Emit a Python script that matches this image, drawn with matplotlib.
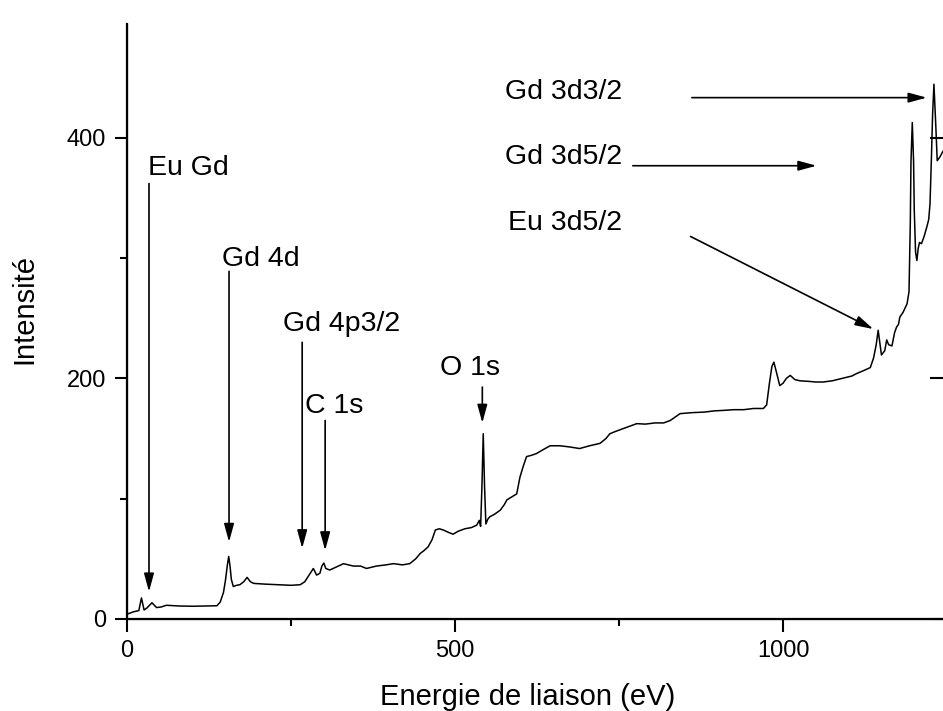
import numpy as np
import matplotlib
matplotlib.use("Agg")
import matplotlib.pyplot as plt
from matplotlib.ticker import MultipleLocator

plt.rcParams['font.family'] = ['Liberation Sans', 'DejaVu Sans']

# spectre XPS (energie en eV, intensite)
energie = [0, 10, 18, 22, 26, 30, 38, 45, 52, 60, 80, 100, 120, 137, 142, 147, 150, 153, 155, 157,
           159, 162, 167, 172, 178, 183, 188, 193, 210, 230, 250, 264, 271, 278, 284, 289, 294, 297,
           300, 303, 309, 318, 330, 345, 356, 365, 380, 395, 406, 420, 431, 440, 447, 453, 459, 465,
           470, 476, 482, 490, 497, 505, 515, 525, 533, 537, 539, 541, 543, 545, 547, 550, 553, 560,
           569, 575, 579, 585, 594, 599, 604, 609, 616, 624, 635, 645, 660, 675, 690, 705, 721, 730,
           736, 745, 760, 777, 790, 805, 818, 828, 836, 843, 860, 880, 895, 909, 925, 940, 955, 970,
           975, 979, 983, 986, 990, 995, 1000, 1005, 1011, 1018, 1026, 1040, 1050, 1061, 1075, 1090,
           1105, 1112, 1125, 1133, 1138, 1142, 1145, 1148, 1150, 1155, 1158, 1161, 1166, 1170, 1173,
           1176, 1178, 1183, 1189, 1192, 1194, 1195, 1197, 1199, 1200, 1202, 1204, 1206, 1208, 1211,
           1215, 1219, 1222, 1224, 1226, 1228, 1230, 1232, 1233, 1235, 1239, 1244, 1250]
intensite = [4, 6, 7, 17.5, 7.5, 9, 13.5, 9.5, 10, 11.4, 10.8, 10.6, 10.8, 11, 14, 22, 32, 45, 52, 44,
             33, 27, 28, 28.5, 31, 34.6, 31, 29.6, 29, 28.5, 28, 28.5, 31, 37, 42, 36.5, 38, 44,
             46.5, 42, 40.7, 43, 46, 44, 44, 42, 44, 45, 46, 45, 46, 50, 54.5, 57, 60, 66,
             74, 75, 74, 72, 70.5, 73, 75, 76, 78, 82, 77, 110, 154, 110, 79, 83, 85, 87,
             90.5, 95, 99, 101, 104, 118, 127, 135, 136, 137.5, 141, 144, 144, 143, 141.7, 144, 146, 150,
             154, 156, 159, 162.4, 162, 163, 163, 165, 168, 170.7, 171.5, 172, 173, 173.4, 174, 174, 175, 175,
             178, 195, 210, 213.5, 205, 194, 196, 200, 202.5, 199, 198, 197.5, 197, 197, 198, 200,
             202, 204, 207, 209, 217, 228, 240, 228, 219.5, 223, 232, 228, 227, 238, 242.6,
             245, 251, 255, 262, 272, 330, 380, 412.7, 380, 340, 305, 298, 308, 313, 312,
             318, 325.6, 332, 345, 380, 420, 444.6, 420, 408, 381, 384, 389, 392]

# etiquettes : texte, position du texte, debut et fin de la fleche
labels = ["Eu Gd", "Gd 4d", "Gd 4p3/2", "C 1s", "O 1s", "Gd 3d3/2", "Gd 3d5/2", "Eu 3d5/2"]
text_x = [32, 145, 238, 271, 477, 755, 755, 755]
text_y = [369.5, 293.8, 239, 171, 202.5, 432, 378.4, 323.7]
text_ha = ["left", "left", "left", "left", "left", "right", "right", "right"]
arrow_start = [(33.5, 362), (155.5, 289), (267, 230), (302, 165), (541.6, 192.8),
               (861, 433.4), (771, 376.8), (859, 318)]
arrow_end = [(33.5, 22.7), (155.5, 64), (267, 58.7), (302, 57), (541.6, 163),
             (1219, 433.4), (1051, 376.8), (1137.6, 241)]

fig = plt.figure(figsize=(9.43, 7.11), dpi=100)
ax = fig.add_axes([0.1347, 0.1294, 0.8696, 0.8375])

ax.plot(energie, intensite, color="k", lw=1.1)

for i in range(len(labels)):
    ax.text(text_x[i], text_y[i], labels[i], fontsize=20.5, ha=text_ha[i], va="baseline")
    ax.annotate("", xy=arrow_end[i], xytext=arrow_start[i],
                arrowprops=dict(arrowstyle="-|>,head_length=1.1,head_width=0.3",
                                mutation_scale=10, lw=1.2, color="k",
                                shrinkA=0, shrinkB=0))

ax.set_xlim(0, 1250)
ax.set_ylim(0, 495)
ax.xaxis.set_major_locator(MultipleLocator(500))
ax.xaxis.set_minor_locator(MultipleLocator(250))
ax.yaxis.set_major_locator(MultipleLocator(200))
ax.yaxis.set_minor_locator(MultipleLocator(100))

ax.spines["top"].set_visible(False)
for s in ["left", "bottom", "right"]:
    ax.spines[s].set_linewidth(1.6)

ax.tick_params(axis="both", which="major", direction="out", length=9, width=1.5,
               labelsize=17, pad=6)
ax.tick_params(axis="both", which="minor", direction="out", length=5, width=1.5)

# graduations interieures du cote droit (axe coupe par le bord)
ax2 = ax.twinx()
ax2.set_ylim(ax.get_ylim())
ax2.yaxis.set_major_locator(MultipleLocator(200))
ax2.tick_params(axis="y", direction="in", length=12, width=1.5, labelright=False)
ax2.spines["top"].set_visible(False)

ax.set_xlabel("Energie de liaison (eV)", fontsize=21)
ax.set_ylabel("Intensité", fontsize=21)
ax.xaxis.set_label_coords(0.489, -0.108)
ax.yaxis.set_label_coords(-0.108, 0.52)

fig.savefig("out.png", dpi=100)
